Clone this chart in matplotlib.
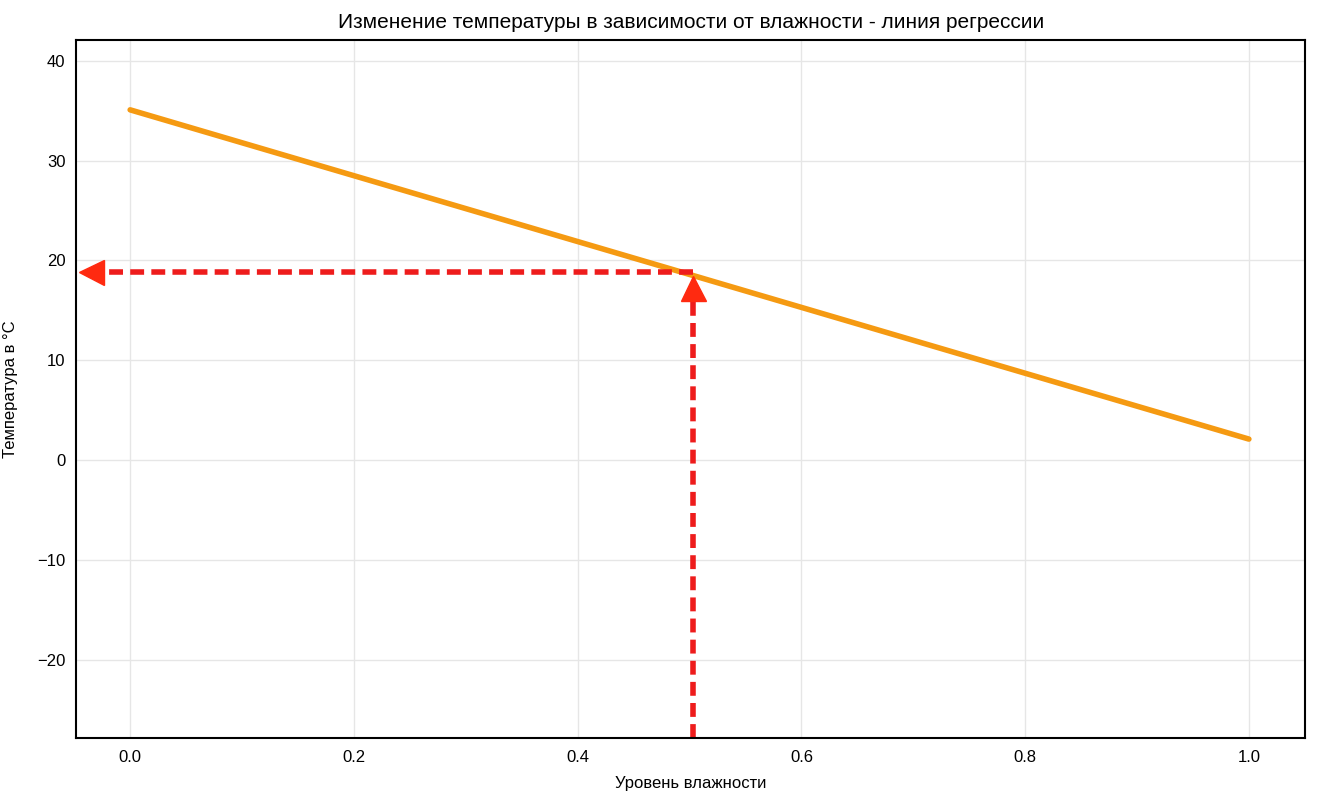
import matplotlib.pyplot as plt

plt.rcParams['font.family'] = ['Liberation Sans', 'DejaVu Sans']

# regression line endpoints
humidity = [0.0, 1.0]
temperature = [35.1, 2.1]
# point of interest
x_point = 0.503
y_point = 18.8

fig, ax = plt.subplots(figsize=(13.18, 8.0), dpi=100)
fig.subplots_adjust(left=0.058, right=0.99, top=0.95, bottom=0.077)

ax.plot(humidity, temperature, color='#f59a12', linewidth=4, solid_capstyle='round')

ax.set_xlim(-0.048, 1.05)
ax.set_ylim(-27.9, 42.1)

# dashed guides with arrowheads
ax.plot([x_point, -0.03], [y_point, y_point], color='#ee1c1c', linestyle='--', linewidth=4, dashes=(2.5, 1.3))
ax.plot([x_point, x_point], [-27.9, y_point - 1.5], color='#ee1c1c', linestyle='--', linewidth=4, dashes=(2.5, 1.3))
ax.plot([-0.035], [y_point], marker='<', markersize=18, color='#ff2a10', clip_on=False)
ax.plot([x_point], [y_point - 1.6], marker='^', markersize=18, color='#ff2a10')

ax.set_title('Изменение температуры в зависимости от влажности - линия регрессии', fontsize=15, pad=9)
ax.set_xlabel('Уровень влажности', fontsize=12, labelpad=8)
ax.set_ylabel('Температура в °C', fontsize=12, labelpad=14)
ax.tick_params(labelsize=12, length=0, pad=8)
ax.grid(True, color='#e6e6e6', linewidth=1)
for s in ax.spines.values():
    s.set_color('black')
    s.set_linewidth(1.5)

fig.savefig('out.png')
